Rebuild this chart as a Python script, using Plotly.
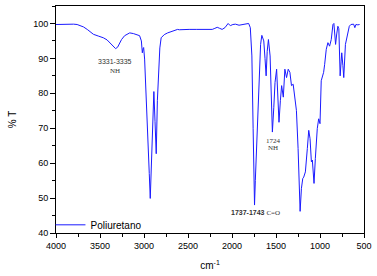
import plotly.graph_objects as go

wavenumber = [4000, 3900, 3800, 3760, 3720, 3687, 3640, 3600, 3575, 3520, 3462, 3420, 3387, 3350,
              3323, 3300, 3275, 3255, 3220, 3190, 3162, 3120, 3086, 3050, 3030, 3019, 3010, 3004,
              2993, 2975, 2956, 2940, 2929, 2915, 2900, 2888, 2875, 2861, 2848, 2835, 2820, 2805,
              2770, 2731, 2700, 2660, 2618, 2599, 2540, 2487, 2400, 2337, 2280, 2224, 2195, 2168,
              2140, 2112, 2080, 2060, 2044, 2030, 2017, 1990, 1961, 1920, 1886, 1850, 1811, 1792,
              1781, 1774, 1760, 1750, 1744, 1735, 1718, 1700, 1691, 1675, 1661, 1650, 1639, 1625,
              1612, 1600, 1586, 1567, 1555, 1541, 1525, 1511, 1493, 1480, 1466, 1450, 1436, 1417,
              1399, 1380, 1361, 1342, 1324, 1305, 1286, 1268, 1249, 1235, 1226, 1211, 1196, 1185,
              1166, 1144, 1128, 1113, 1098, 1087, 1068, 1053, 1031, 1015, 1000, 986, 959, 947,
              929, 910, 891, 872, 853, 842, 823, 810, 797, 786, 771, 760, 753, 740, 730, 711,
              686, 667, 649, 618, 604, 592, 570, 550]
transmittance = [99.7, 99.8, 99.8, 99.7, 99.3, 99.0, 98.2, 97.5, 96.9, 96.4, 95.9, 95.3, 94.5, 93.4,
                 92.8, 93.2, 94.4, 95.4, 96.5, 97.0, 97.3, 97.1, 96.9, 96.5, 95.0, 91.6, 92.8, 93.1,
                 89.8, 80.0, 68.9, 57.0, 49.9, 60.0, 75.0, 80.5, 72.0, 62.7, 78.0, 87.9, 93.0, 95.9,
                 96.8, 97.3, 97.6, 98.0, 98.3, 98.2, 98.3, 98.3, 98.3, 98.3, 98.3, 98.3, 98.6, 98.9,
                 98.6, 98.3, 98.8, 99.4, 100.0, 99.6, 99.4, 99.7, 99.8, 99.5, 99.6, 99.8, 100.0, 98.8,
                 94.5, 90.7, 70.0, 55.0, 48.0, 55.0, 66.0, 80.0, 87.9, 94.0, 96.6, 96.0, 95.0, 90.0,
                 85.0, 92.0, 95.4, 90.7, 80.0, 68.9, 76.0, 83.1, 86.9, 80.0, 71.7, 78.0, 82.2, 78.9,
                 86.9, 84.5, 86.9, 86.0, 82.2, 82.6, 77.9, 75.1, 64.2, 52.0, 46.2, 52.8, 55.6, 56.0,
                 57.5, 64.2, 69.4, 67.0, 60.4, 60.9, 54.2, 61.3, 69.9, 72.7, 71.3, 83.6, 86.0, 88.3,
                 92.6, 94.5, 93.5, 95.4, 99.7, 100.0, 94.0, 97.0, 99.2, 98.5, 85.0, 89.0, 91.6, 88.0,
                 84.5, 94.0, 97.3, 99.2, 99.7, 99.8, 98.8, 99.7, 99.6, 99.7]

x_ticks = [4000, 3500, 3000, 2500, 2000, 1500, 1000, 500]
y_ticks = [40, 50, 60, 70, 80, 90, 100]

fig = go.Figure()
fig.add_trace(go.Scatter(x=wavenumber, y=transmittance, mode="lines", name="Poliuretano",
                         line=dict(color="#1a1aff", width=1)))

ann_sans = dict(family="Arial, Liberation Sans, sans-serif", size=7, color="#333333")
ann_serif = dict(family="Times New Roman, Liberation Serif, serif", size=7, color="#333333")
fig.add_annotation(x=3330, y=89.0, text="3331-3335", showarrow=False, font=ann_sans)
fig.add_annotation(x=3330, y=86.3, text="NH", showarrow=False, font=ann_serif)
fig.add_annotation(x=1530, y=66.3, text="1724", showarrow=False, font=ann_serif)
fig.add_annotation(x=1530, y=64.4, text="NH", showarrow=False, font=ann_serif)
fig.add_annotation(x=1736, y=45.7, text="<b>1737-1743</b> <span style='font-family:Liberation Serif'>C=O</span>",
                   showarrow=False, font=ann_sans)

axis_font = dict(family="Arial, Liberation Sans, sans-serif", size=9, color="#000000")
fig.update_layout(
    width=377, height=276,
    margin=dict(l=55.5, r=11, t=5, b=43),
    paper_bgcolor="white", plot_bgcolor="white",
    font=axis_font,
    showlegend=True,
    legend=dict(x=-0.018, y=0.036, xanchor="left", yanchor="middle",
                bgcolor="rgba(0,0,0,0)", font=dict(size=10), borderwidth=0),
    xaxis=dict(range=[4000, 500], tickvals=x_ticks, ticks="outside", ticklen=4, tickwidth=1,
               tickcolor="black", showline=True, linecolor="black", linewidth=1, mirror=True,
               showgrid=False, zeroline=False,
               minor=dict(dtick=250, ticks="outside", ticklen=3, tickcolor="black", showgrid=False),
               title=dict(text="cm<sup>-1</sup>", font=dict(size=10), standoff=12)),
    yaxis=dict(range=[40, 105], tickvals=y_ticks, ticks="outside", ticklen=5, tickwidth=1,
               tickcolor="black", showline=True, linecolor="black", linewidth=1, mirror=True,
               showgrid=False, zeroline=False,
               minor=dict(dtick=5, tick0=0, ticks="outside", ticklen=3, tickcolor="black", showgrid=False),
               title=dict(text="% T", font=dict(size=10), standoff=14)),
)

fig.write_html("out.html", config={"displayModeBar": False},
               post_script="document.body.style.margin='0';")
